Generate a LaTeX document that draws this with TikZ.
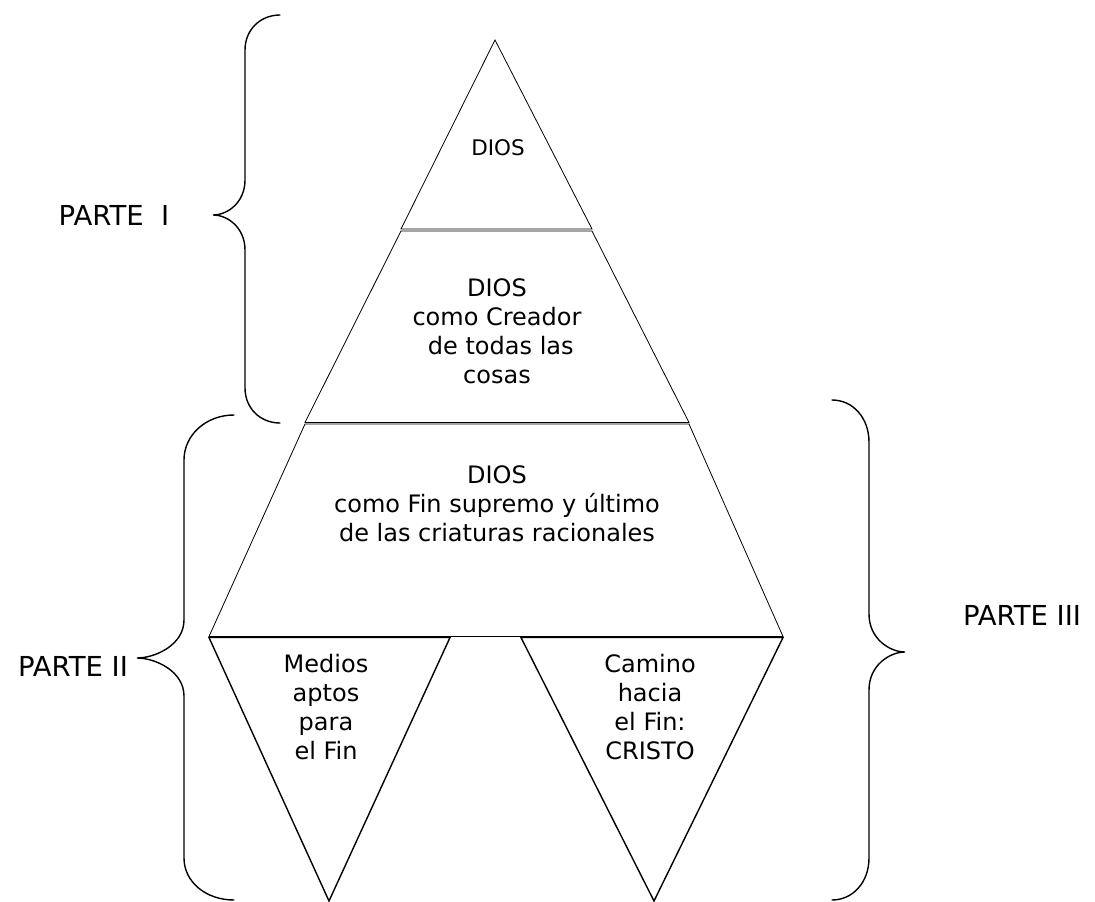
\documentclass[tikz,border=0pt]{standalone}
\usepackage{fontspec}
\setmainfont{DejaVu Sans}
\begin{document}
\begin{tikzpicture}[x=1pt,y=-1pt,
  thinline/.style={line width=0.8pt, line join=miter},
  thickline/.style={line width=1.4pt, line join=miter},
  bracestyle/.style={line width=1.4pt, line cap=round},
  intext/.style={align=center, inner sep=0pt, font=\fontsize{24}{29}\selectfont},
  parttext/.style={inner sep=0pt, font=\fontsize{27.5}{32}\selectfont}]
\useasboundingbox (0,0) rectangle (1095,902);
% pyramid pieces
\draw[thinline] (495,40) -- (592,229) -- (401,229) -- cycle;
\draw[thinline] (401,231) -- (592,231) -- (689,422.5) -- (305,422.5) -- cycle;
\draw[thinline] (305,424) -- (689,424) -- (783,636.5) -- (209,636.5) -- cycle;
% inverted triangles
\draw[thickline] (209,637.5) -- (450,637.5) -- (329,901) -- cycle;
\draw[thickline] (521,637.5) -- (783,637.5) -- (654,901) -- cycle;
% brace PARTE I (tip left)
\draw[bracestyle] (280,15) .. controls (260,15) and (245,30) .. (245,50)
  -- (245,180) .. controls (245,202) and (228,215) .. (213,215)
  .. controls (228,215) and (245,228) .. (245,250)
  -- (245,388) .. controls (245,408) and (260,423) .. (280,423);
% brace PARTE II (tip left)
\draw[bracestyle] (234,415) .. controls (206,415) and (184,435) .. (184,460)
  -- (184,620) .. controls (184,645) and (155,658) .. (137,658)
  .. controls (155,658) and (184,671) .. (184,696)
  -- (184,858) .. controls (184,882) and (206,900) .. (234,900);
% brace PARTE III (tip right)
\draw[bracestyle] (832,400) .. controls (853,400) and (869,418) .. (869,442)
  -- (869,614) .. controls (869,639) and (890,652) .. (905,652)
  .. controls (890,652) and (869,665) .. (869,690)
  -- (869,858) .. controls (869,882) and (853,900) .. (832,900);
% texts
\node[intext, font=\fontsize{21.5}{26}\selectfont] (dios1) at (498,148) {DIOS};
\node[intext] (dios2) at (497,331) {DIOS\\como Creador\\\ de todas las\\cosas};
\node[intext] (dios3) at (497,504) {DIOS\\como Fin supremo y último\\de las criaturas racionales};
\node[intext] (medios) at (326,707) {Medios\\aptos\\para\\el Fin};
\node[intext] (camino) at (650,707) {Camino\\hacia\\el Fin:\\CRISTO};
\node[parttext] (p1) at (114,215) {PARTE\ \ I};
\node[parttext] (p2) at (73,666) {PARTE II};
\node[parttext] (p3) at (1022,615) {PARTE III};
\end{tikzpicture}
\end{document}
